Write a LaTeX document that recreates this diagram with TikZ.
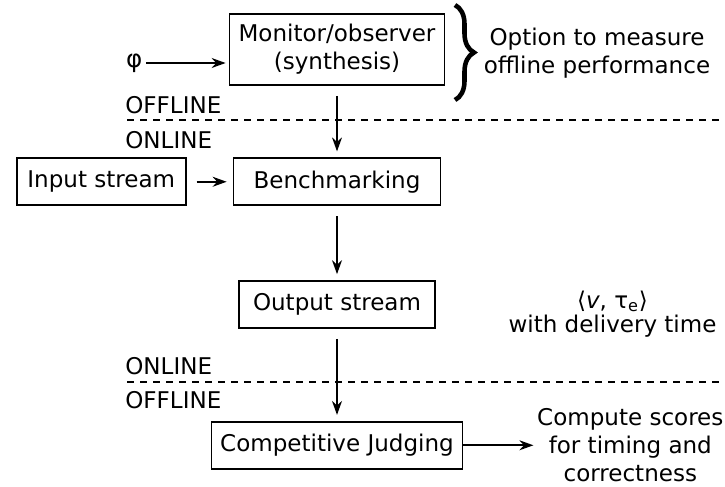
\documentclass[tikz,border=0pt]{standalone}
\usepackage{fontspec}
\setmainfont{DejaVu Sans}
\usepackage{tikz}
\usetikzlibrary{positioning,arrows.meta,decorations.pathreplacing}
\usepackage{xcolor}
\definecolor{flowblack}{HTML}{000000}

\begin{document}
\begin{tikzpicture}[
          font=\fontsize{13.1}{15.8}\selectfont,
          box/.style={draw=flowblack,line width=1pt,inner sep=3pt,
                      minimum height=0.94cm,align=center},
          arr/.style={-{Stealth[length=2.8mm,width=2mm]},line width=0.9pt,flowblack},
          garr/.style={arr,shorten <=0.2cm,shorten >=0.12cm},
          sep/.style={line width=0.8pt,dash pattern=on 0.13cm off 0.13cm},
          zone/.style={anchor=west,inner sep=0pt},
          brc/.style={decorate,decoration={brace,amplitude=0.38cm},line width=2.6pt}]
        \useasboundingbox (0,0) rectangle (14.5,-9.72);
        \node[box,minimum width=4.3cm,minimum height=1.42cm] (mon) at (6.74,-0.99) {Monitor/observer\\(synthesis)};
        \node[box,minimum width=4.14cm,below=1.43cm of mon] (bench) {Benchmarking};
        \node[box,minimum width=3.38cm,left=0.92cm of bench] (input) {Input stream};
        \node[box,minimum width=3.92cm,below=1.48cm of bench] (out) {Output stream};
        \node[box,minimum width=5.02cm,below=1.84cm of out] (judge) {Competitive Judging};
        \node[left=1.65cm of mon,yshift=-0.27cm,inner sep=2pt,font=\fontsize{14}{16}\selectfont] (phi) {φ};
        \node[right=1.4cm of judge,align=center,inner sep=0.07cm] (score) {Compute scores\\for timing and\\correctness};
        \node[align=center] (deliv) at (12.25,-6.28) {⟨\textit{v}, τ\textsubscript{e}⟩\\[-2pt]with delivery time};
        \node[align=center] (opt) at (11.94,-1.07) {Option to measure\\offline performance};
        % offline / online boundaries
        \node[zone] (off1) at (2.5,-2.1) {OFFLINE};
        \node[zone] (on1) at (2.5,-2.8) {ONLINE};
        \node[zone] (on2) at (2.5,-7.32) {ONLINE};
        \node[zone] (off2) at (2.5,-8.0) {OFFLINE};
        \draw[sep] (2.54,-2.4) -- (14.5,-2.4);
        \draw[sep] (2.54,-7.64) -- (14.5,-7.64);
        \draw[brc] (9.1,-0.1) -- (9.1,-2.0);
        \draw[arr,shorten >=0.06cm] (phi) -- (phi -| mon.west);
        \draw[garr] (mon) -- (bench);
        \draw[garr] (input) -- (bench);
        \draw[garr] (bench) -- (out);
        \draw[garr] (out) -- (judge);
        \draw[arr] (judge) -- (score);
      \end{tikzpicture}
\end{document}
